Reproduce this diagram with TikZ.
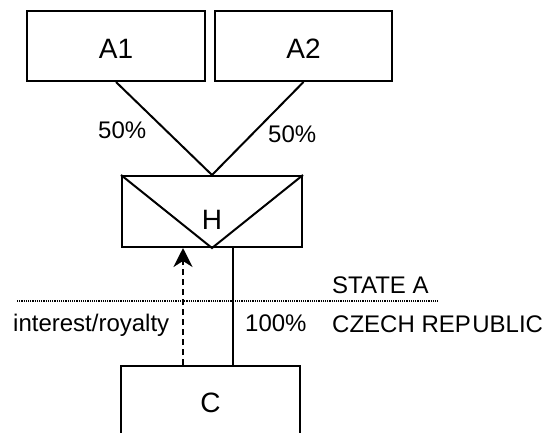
\documentclass[tikz,border=0pt]{standalone}
\usepackage{fontspec}
\setmainfont{Liberation Sans}
\usetikzlibrary{arrows.meta}
\begin{document}
\begin{tikzpicture}[x=1pt,y=-1pt,
  box/.style={draw,line width=2pt,inner sep=0pt,font=\fontsize{28}{30}\selectfont,text height=24pt,text depth=0pt},
  lbl/.style={inner sep=0pt,font=\fontsize{24}{28}\selectfont,anchor=base west},
  conn/.style={line width=2pt},
  flow/.style={line width=2pt,dash pattern=on 6pt off 4pt,-{Stealth[length=19pt,width=19pt,inset=6pt]}},
  border/.style={line width=1.2pt,dash pattern=on 1.2pt off 1pt}]
\useasboundingbox (0,0) rectangle (548,432);
\clip (0,0) rectangle (548,432);
% boxes
\node[box,minimum width=178pt,minimum height=70pt] (A1) at (116,46) {A1};
\node[box,minimum width=177pt,minimum height=70pt] (A2) at (303.5,46) {A2};
\node[box,minimum width=180pt,minimum height=71pt,text height=35pt] (H) at (212,211.5) {H};
\node[box,minimum width=179pt,minimum height=72pt,text height=20pt] (C) at (210.5,402) {C};
% V inside H
\draw[conn] (H.north west) -- (H.south) -- (H.north east);
% ownership lines
\draw[conn] (A1.south) -- (H.north);
\draw[conn] (A2.south) -- (H.north);
\coordinate (sx) at (233,300);
\coordinate (dx) at (183,300);
\draw[conn] (sx |- H.south) -- (sx |- C.north);
\draw[flow] (dx |- C.north) -- (dx |- H.south);
% border
\coordinate (bl) at (17,301);
\coordinate (br) at (438,301);
\draw[border] (bl) -- (br);
% labels
\node[lbl] (p1) at (98,138) {50\%};
\node[lbl] (p2) at (268,142) {50\%};
\node[lbl] (p3) at (245,331) {100\%};
\node[lbl] (ir) at (13,331) {interest/royalty};
\node[lbl] (sa) at (332,293) {STATE A};
\node[lbl] (cz) at (332,332) {CZECH REP\kern1.5pt UBLIC};
\end{tikzpicture}
\end{document}
